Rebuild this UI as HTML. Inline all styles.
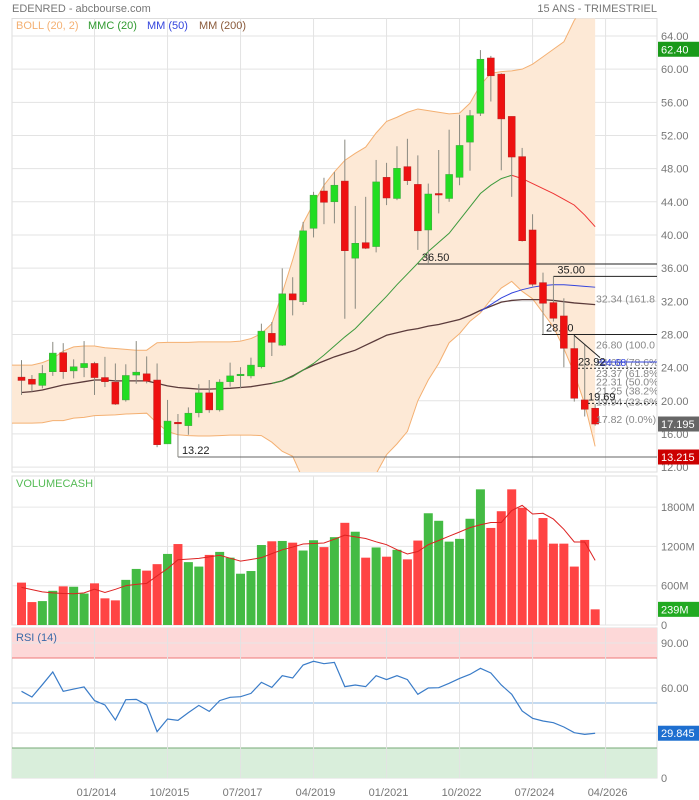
<!DOCTYPE html>
<html><head><meta charset="utf-8"><style>
body{margin:0;background:#fff;}
svg{display:block;font-family:"Liberation Sans",sans-serif;}
</style></head><body>
<svg id="chart" width="699" height="800" viewBox="0 0 699 800" xmlns="http://www.w3.org/2000/svg">
<defs>
<clipPath id="mainClip"><rect x="12" y="18.5" width="645" height="453.5"/></clipPath>
<clipPath id="labClip"><rect x="12" y="18.5" width="646" height="453.5"/></clipPath>
</defs>
<text x="12" y="12" font-size="11" fill="#777">EDENRED - abcbourse.com</text>
<text x="657" y="12" font-size="11" fill="#777" text-anchor="end">15 ANS - TRIMESTRIEL</text>
<g id="grid"></g>
<g id="main"></g>
<g id="vol"></g>
<g id="rsi"></g>
<g id="axes"></g>
</svg>
<script>
const opens =  [22.85,22.6,21.85,23.5,25.8,23.6,24.0,24.5,22.8,22.25,20.1,23.1,23.25,22.5,14.8,17.4,17.0,18.55,20.95,18.9,22.3,23.05,23.0,24.1,28.13,26.7,32.9,31.95,40.8,45.3,44.0,46.5,37.2,39.07,38.6,46.95,44.4,48.24,46.1,40.6,45.0,44.4,46.95,51.2,54.67,61.35,59.4,54.3,49.45,40.6,34.25,31.84,30.23,26.3,20.1,19.1];
const closes = [22.45,22.0,23.3,25.75,23.5,24.1,24.5,22.8,22.3,19.6,23.05,23.45,22.35,14.7,17.55,17.25,18.5,20.95,18.9,22.25,23.0,23.2,24.3,28.4,27.05,32.9,32.16,40.5,44.8,43.94,46.0,38.1,39.0,38.4,46.4,44.46,48.04,46.55,40.5,44.94,44.9,47.3,50.8,54.4,61.2,59.2,54.0,49.4,39.3,34.05,31.76,29.95,26.33,20.3,18.97,17.195];
const highs =  [24.9,23.1,24.3,27.1,26.95,25.0,27.2,24.7,25.3,24.5,24.4,27.2,25.35,24.5,20.1,18.4,19.2,22.0,22.5,22.6,24.6,24.05,25.2,29.3,29.5,35.97,34.9,41.57,45.2,46.9,47.6,51.5,43.5,44.6,49.05,48.7,50.7,51.6,49.6,46.2,50.25,52.7,54.5,55.07,62.3,61.6,59.5,54.3,50.5,42.5,35.46,35.0,32.36,27.9,26.85,19.6];
const lows =   [20.7,21.1,21.5,23.0,22.65,22.7,22.85,20.7,21.65,19.5,19.9,22.05,22.1,14.4,14.8,13.22,15.9,18.0,18.55,18.7,21.7,21.5,22.7,23.9,25.4,26.6,30.3,31.55,39.7,41.3,41.4,29.9,31.1,38.3,37.9,43.6,44.2,46.03,38.2,36.5,42.6,44.0,46.0,47.75,54.35,56.1,47.8,44.6,39.2,33.8,28.0,29.55,24.04,19.9,18.1,17.0];
const bollUpper = [24.3,24.3,24.6,25.1,26.0,26.5,26.6,26.6,26.4,26.3,26.2,26.1,26.1,27.0,27.05,27.05,27.05,27.1,27.1,27.1,27.1,27.2,27.5,28.1,29.3,33.0,37.0,41.4,43.8,46.0,47.6,49.0,49.85,50.6,52.3,53.7,54.2,54.8,55.2,55.0,54.8,54.6,54.7,55.9,58.1,59.5,59.7,59.8,60.0,60.6,61.5,62.4,63.3,65.9,67.5,69.0];
const bollLower = [17.3,17.3,17.35,17.6,17.6,17.9,18.0,18.2,18.25,18.3,18.4,18.45,18.5,17.3,16.3,15.9,15.8,15.75,15.75,15.8,15.85,15.85,15.85,15.8,15.0,13.9,13.3,10.5,8.0,6.0,5.0,3.0,3.0,5.0,11.2,13.5,14.8,16.3,20.0,22.5,24.5,27.0,28.1,29.6,30.6,32.2,33.6,34.4,33.2,32.3,30.6,28.9,26.3,23.3,19.6,14.5];
const mm200 = [21.0,21.1,21.3,21.6,21.9,22.1,22.3,22.5,22.5,22.4,22.4,22.4,22.4,22.1,21.8,21.6,21.5,21.4,21.4,21.45,21.5,21.6,21.7,21.9,22.1,22.4,23.0,23.7,24.3,24.8,25.3,25.7,26.1,26.7,27.3,27.9,28.2,28.5,28.7,29.0,29.2,29.5,29.8,30.3,30.9,31.4,31.9,32.1,32.2,32.2,32.2,32.1,31.95,31.8,31.7,31.6];
const mmcStart = 24;
const mmc20 = [22.1,22.4,22.9,23.7,24.5,25.5,26.6,27.7,28.7,30.0,31.3,32.6,34.0,35.3,36.6,38.0,39.1,40.2,41.8,43.4,45.0,46.0,46.8,47.2,46.8,46.2,45.6,45.0,44.3,43.6,42.4,41.0];
const mmcPeak = 23; // index within mmc20 after which line turns red
const mm50Start = 44;
const mm50 = [30.8,31.6,32.4,33.0,33.4,33.7,33.9,34.0,34.0,33.9,33.8,33.7];
const volumes = [647,350,365,522,590,584,480,636,407,376,689,856,830,929,1085,1236,960,892,1070,1116,1028,783,824,1221,1278,1283,1257,1137,1294,1189,1341,1560,1424,1028,1184,1043,1148,1002,1289,1706,1591,1273,1315,1622,2071,1482,1737,2071,1789,1304,1633,1242,1242,892,1299,239];
const volUp = [0,0,1,1,0,1,1,0,0,0,1,1,0,0,1,0,1,1,0,1,1,1,1,1,0,1,0,1,1,0,1,0,1,0,1,0,1,0,0,1,1,1,1,1,1,0,0,0,0,0,0,0,0,0,0,0];
const volMA = [574,540,506,490,480,478,490,548,496,545,600,620,636,750,861,996,1005,1017,1040,1064,1020,975,1000,1028,1090,1148,1190,1236,1245,1252,1310,1372,1345,1320,1270,1226,1150,1085,1122,1226,1290,1356,1420,1487,1530,1565,1565,1748,1826,1695,1706,1617,1461,1268,1268,986];
const rsiValues = [57.8,54.0,62.2,70.7,57.8,59.3,60.7,51.6,48.7,38.7,52.2,52.4,48.7,30.9,39.3,38.4,43.6,48.4,44.4,51.6,53.8,54.2,56.4,63.8,60.4,68.2,66.7,75.3,77.8,76.2,77.1,60.9,62.0,60.9,68.2,65.6,68.2,65.6,55.8,60.0,60.2,63.1,66.4,69.1,73.1,70.0,62.0,55.8,44.7,39.8,38.0,36.9,34.0,30.2,29.1,29.845];
const priceTicks = [64,60,56,52,48,44,40,36,32,28,24,20,16,12];
const volTicks = [0,600,1200,1800];
const volTickLabels = ["0","600M","1200M","1800M"];
const rsiTicks = [0,60,90];
const dateLabels = ["01/2014","10/2015","07/2017","04/2019","01/2021","10/2022","07/2024","04/2026"];
const dateIndex = [7,14,21,28,35,42,49,56];
const fibLevels = [32.34,26.80,24.68,23.37,22.31,21.25,19.94,17.82];
const fibLabels = ["32.34  (161.8","26.80  (100.0","24.68  (78.6%","23.37  (61.8%","22.31  (50.0%)","21.25  (38.2%","19.94  (23.6%","17.82  (0.0%)"];
const supportLevels = [36.50,35.00,28.00,13.22];
const supportStart = [38,51,49.9,15];

const NS="http://www.w3.org/2000/svg";
const X0=12, X1=657;
const xOf = i => 21.5 + 10.43*i;
const yP = p => 36 + (64-p)*8.29;
const yV = v => 625 - v*39.3/600;
const yR = r => 778 - 1.5*r;
function mk(tag, attrs, parent){const e=document.createElementNS(NS,tag);for(const k in attrs)e.setAttribute(k,attrs[k]);parent.appendChild(e);return e;}
const G=id=>document.getElementById(id);
const grid=G('grid'), main=G('main'), vol=G('vol'), rsi=G('rsi'), axes=G('axes');

// panels backgrounds / borders
let e;
e=mk('rect',{x:X0,y:18.5,width:X1-X0,height:453.5,fill:'#fff',stroke:'#ddd'},grid);


e=mk('rect',{x:X0,y:476,width:X1-X0,height:149,fill:'#fff',stroke:'#ddd'},grid);


e=mk('rect',{x:X0,y:628,width:X1-X0,height:150,fill:'#fff',stroke:'#ddd'},grid);


// rsi zones
e=mk('rect',{x:X0,y:yR(100),width:X1-X0,height:yR(80)-yR(100),fill:'#fdd8d8'},grid);


e=mk('rect',{x:X0,y:yR(20),width:X1-X0,height:yR(0)-yR(20),fill:'#d9eedb'},grid);



// horizontal grid
priceTicks.forEach(p=>{e=mk('line',{x1:X0,x2:X1,y1:yP(p),y2:yP(p),stroke:'#e3e3e3'},grid);

});
volTicks.forEach(v=>{e=mk('line',{x1:X0,x2:X1,y1:yV(v),y2:yV(v),stroke:'#e6e6e6'},grid);

});
[30].forEach(r=>{e=mk('line',{x1:X0,x2:X1,y1:yR(r),y2:yR(r),stroke:'#e6e6e6'},grid);

});
[60,90].forEach(r=>{e=mk('line',{x1:X0,x2:X1,y1:yR(r),y2:yR(r),stroke:'#e6e6e6'},grid);

});
e=mk('line',{x1:X0,x2:X1,y1:yR(80),y2:yR(80),stroke:'#e77'},grid);


e=mk('line',{x1:X0,x2:X1,y1:yR(50),y2:yR(50),stroke:'#8ab4e0'},grid);


e=mk('line',{x1:X0,x2:X1,y1:yR(20),y2:yR(20),stroke:'#7a7'},grid);


// vertical grid
dateIndex.forEach(i=>{[[18.5,472],[476,625],[628,778]].forEach(([a,b])=>{e=mk('line',{x1:xOf(i),x2:xOf(i),y1:a,y2:b,stroke:'#e3e3e3'},grid);

});});

// ---- main panel ----
const mg=mk('g',{'clip-path':'url(#mainClip)'},main);
let pts=bollUpper.map((v,i)=>xOf(i)+','+yP(v)).concat(bollLower.map((v,i)=>xOf(i)+','+yP(v)).reverse());
let first='12,'+yP(bollUpper[0]), lastU=X0;
e=mk('polygon',{points:[X0+','+yP(bollUpper[0])].concat(pts).concat([X0+','+yP(bollLower[0])]).join(' '),fill:'#fde9d6',stroke:'none'},mg);


function poly(arr,start,color,name,w){const p=arr.map((v,k)=>xOf(start+k)+','+yP(v));const l=mk('polyline',{points:p.join(' '),fill:'none',stroke:color,'stroke-width':w||1},mg);return l;}
e=mk('polyline',{points:[X0+','+yP(bollUpper[0])].concat(bollUpper.map((v,i)=>xOf(i)+','+yP(v))).join(' '),fill:'none',stroke:'#f4b072','stroke-width':1},mg);


e=mk('polyline',{points:[X0+','+yP(bollLower[0])].concat(bollLower.map((v,i)=>xOf(i)+','+yP(v))).join(' '),fill:'none',stroke:'#f4b072','stroke-width':1},mg);


e=poly(mm200,0,'#5b3b3b','mm200',1.3);


e=poly(mmc20.slice(0,mmcPeak+1),mmcStart,'#3d9a3d','mmc',1);


e=poly(mmc20.slice(mmcPeak),mmcStart+mmcPeak,'#e33','mmc',1);


e=poly(mm50,mm50Start,'#3344dd','mm50',1);



// support lines
supportLevels.forEach((lv,k)=>{const xs=xOf(supportStart[k]);const col=lv<20?'#666':'#222';
e=mk('line',{x1:xs,x2:X1,y1:yP(lv),y2:yP(lv),stroke:col,'stroke-width':1},mg);


e=mk('text',{x:xs+4,y:yP(lv)-3,'font-size':11,fill:'#222'},mg);e.textContent=lv.toFixed(2);

});
e=mk('line',{x1:xOf(15),x2:xOf(15),y1:yP(lows[15]),y2:yP(13.22),stroke:'#666'},mg);



// candles
opens.forEach((o,i)=>{const c=closes[i],up=c>=o,x=xOf(i);
const w=mk('line',{x1:x,x2:x,y1:yP(highs[i]),y2:yP(lows[i]),stroke:'#8a8a80','stroke-width':1},mg);


const t=yP(Math.max(o,c)),b=yP(Math.min(o,c));
const r=mk('rect',{x:x-3.5,y:t,width:7,height:Math.max(1.5,b-t),fill:up?'#22dd22':'#ee1111',stroke:up?'#44a044':'#b82020','stroke-width':0.5},mg);

});

// fib retracement
e=mk('line',{x1:574,y1:yP(27.9),x2:600,y2:yP(25.2),stroke:'#222'},mg);


fibLevels.forEach((lv,k)=>{e=mk('text',{x:596,y:yP(lv)+4,'font-size':10.5,fill:'#888'},mg);e.textContent=fibLabels[k];

});
e=mk('line',{x1:597,x2:X1,y1:yP(24.68),y2:yP(24.68),stroke:'#3344dd'},mg);


e=mk('text',{x:600,y:yP(24.68)+4,'font-size':10.5,fill:'#3344dd'},mg);e.textContent='24.68';


[[23.92,578],[19.69,588]].forEach(([lv,xs])=>{
e=mk('line',{x1:xs,x2:X1,y1:yP(lv),y2:yP(lv),stroke:'#222','stroke-dasharray':'2,2'},mg);


e=mk('text',{x:xs,y:yP(lv)-3,'font-size':11,fill:'#222'},mg);e.textContent=lv.toFixed(2);

});

// legend
[['BOLL (20, 2)','#f4b072',16],['MMC (20)','#2f9a2f',88],['MM (50)','#3344dd',147],['MM (200)','#8a5a3a',199]].forEach(([t,c,x])=>{
e=mk('text',{x:x,y:29,'font-size':11,fill:c},main);e.textContent=t;

});

// ---- volume ----
volumes.forEach((v,i)=>{const r=mk('rect',{x:xOf(i)-4.5,y:yV(v),width:9,height:625-yV(v),fill:volUp[i]?'#44bb44':'#ff4444'},vol);

});
e=mk('polyline',{points:volMA.map((v,i)=>xOf(i)+','+yV(v)).join(' '),fill:'none',stroke:'#dd2222','stroke-width':1},vol);


e=mk('text',{x:16,y:487,'font-size':11,fill:'#55bb55'},vol);e.textContent='VOLUMECASH';



// ---- rsi ----
e=mk('polyline',{points:rsiValues.map((v,i)=>xOf(i)+','+yR(v)).join(' '),fill:'none',stroke:'#3a7cc8','stroke-width':1.2},rsi);


e=mk('text',{x:16,y:641,'font-size':11,fill:'#3a6aa8'},rsi);e.textContent='RSI (14)';



// ---- axes labels ----
priceTicks.forEach(p=>{e=mk('text',{x:661,y:yP(p)+4,'font-size':11,fill:'#777'},axes);e.textContent=p.toFixed(2);

});
volTicks.forEach((v,k)=>{e=mk('text',{x:661,y:yV(v)+4,'font-size':11,fill:'#777'},axes);e.textContent=volTickLabels[k];

});
rsiTicks.forEach(r=>{e=mk('text',{x:661,y:yR(r)+4,'font-size':11,fill:'#777'},axes);e.textContent=r===0?'0':r.toFixed(2);

});
dateLabels.forEach((d,k)=>{e=mk('text',{x:xOf(dateIndex[k])+2,y:796,'font-size':11,fill:'#777','text-anchor':'middle'},axes);e.textContent=d;

});
function badge(y,txt,bg,name){const r=mk('rect',{x:658,y:y-7.5,width:41,height:15,fill:bg},axes);


const t=mk('text',{x:661,y:y+4,'font-size':11,fill:'#fff'},axes);t.textContent=txt;

}
badge(yP(62.40),'62.40','#1a9a1a','bollinger-upper-badge');
badge(yP(closes[closes.length-1]),closes[closes.length-1].toString(),'#666','last-price-badge');
badge(yP(13.215),'13.215','#cc0000','low-price-badge');
badge(yV(volumes[volumes.length-1]),volumes[volumes.length-1]+'M','#22aa22','last-volume-badge');
badge(yR(rsiValues[rsiValues.length-1]),rsiValues[rsiValues.length-1].toString(),'#1e6fd0','last-rsi-badge');
</script>
</body></html>
